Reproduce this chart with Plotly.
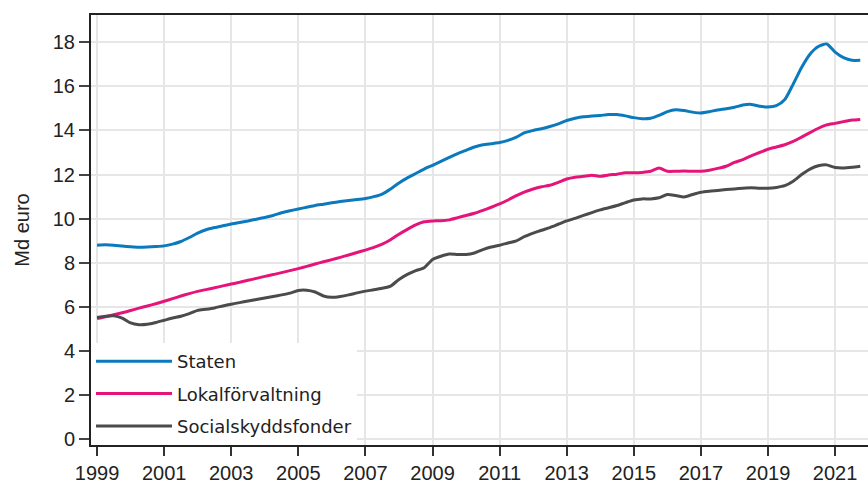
import plotly.graph_objects as go

years = list(range(1999, 2022))
quarters = [y + q / 4 for y in years for q in range(4)]

staten = [
    8.80, 8.82, 8.80, 8.76,
    8.73, 8.71, 8.72, 8.74,
    8.77, 8.85, 8.97, 9.15,
    9.35, 9.50, 9.60, 9.68,
    9.76, 9.83, 9.90, 9.98,
    10.06, 10.15, 10.27, 10.36,
    10.44, 10.52, 10.60, 10.66,
    10.72, 10.78, 10.83, 10.87,
    10.92, 11.00, 11.12, 11.35,
    11.62, 11.85, 12.05, 12.25,
    12.42, 12.60, 12.78, 12.95,
    13.10, 13.25, 13.35, 13.40,
    13.45, 13.55, 13.70, 13.90,
    14.00, 14.08, 14.18, 14.30,
    14.45, 14.55, 14.62, 14.65,
    14.68, 14.72, 14.72, 14.66,
    14.58, 14.53, 14.55, 14.68,
    14.85, 14.94, 14.90, 14.83,
    14.79, 14.85, 14.93, 14.98,
    15.05, 15.15, 15.18, 15.10,
    15.06, 15.12, 15.40, 16.10,
    16.85, 17.45, 17.80, 17.92,
    17.55, 17.30, 17.18, 17.18,
]

lokal = [
    5.48, 5.56, 5.65, 5.74,
    5.84, 5.95, 6.05, 6.15,
    6.26, 6.38, 6.50, 6.61,
    6.71, 6.79, 6.87, 6.96,
    7.04, 7.12, 7.21, 7.30,
    7.39, 7.47, 7.56, 7.65,
    7.74, 7.84, 7.95, 8.05,
    8.15, 8.25, 8.36, 8.47,
    8.58, 8.70, 8.85, 9.05,
    9.30, 9.52, 9.72, 9.86,
    9.90, 9.91, 9.95, 10.05,
    10.15, 10.25, 10.38, 10.52,
    10.67, 10.85, 11.05, 11.22,
    11.35, 11.45, 11.52, 11.65,
    11.80, 11.88, 11.92, 11.97,
    11.92, 11.98, 12.02, 12.08,
    12.08, 12.10, 12.15, 12.30,
    12.15, 12.15, 12.16, 12.15,
    12.15, 12.20, 12.28, 12.38,
    12.55, 12.68, 12.85, 13.00,
    13.15, 13.25, 13.35, 13.50,
    13.70, 13.90, 14.10, 14.25,
    14.32, 14.40, 14.47, 14.50,
]

social = [
    5.53, 5.58, 5.60, 5.50,
    5.28, 5.20, 5.22, 5.30,
    5.40, 5.50, 5.58, 5.70,
    5.85, 5.90, 5.96, 6.05,
    6.13, 6.20, 6.27, 6.34,
    6.41, 6.48, 6.55, 6.63,
    6.75, 6.76, 6.68, 6.50,
    6.44, 6.48, 6.55, 6.64,
    6.72, 6.78, 6.85, 6.95,
    7.25, 7.48, 7.65, 7.78,
    8.15, 8.30, 8.40, 8.38,
    8.38, 8.45, 8.60, 8.72,
    8.80, 8.90, 9.00, 9.20,
    9.35, 9.48, 9.60, 9.75,
    9.90, 10.02, 10.15, 10.28,
    10.40, 10.50, 10.60, 10.73,
    10.85, 10.90, 10.90, 10.95,
    11.10, 11.05, 10.99, 11.10,
    11.20, 11.25, 11.28, 11.32,
    11.35, 11.38, 11.40, 11.38,
    11.38, 11.42, 11.50, 11.70,
    12.00, 12.25, 12.40, 12.44,
    12.32, 12.30, 12.33, 12.38,
]

series_names = ["Staten", "Lokalförvaltning", "Socialskyddsfonder"]
series_values = [staten, lokal, social]
series_colors = ["#0b79bd", "#e5147b", "#4b4b4b"]

x_tick_vals = list(range(1999, 2022, 2))
x_tick_text = [str(v) for v in x_tick_vals]
y_tick_vals = list(range(0, 19, 2))

fig = go.Figure()
for i, (name, vals, col) in enumerate(zip(series_names, series_values, series_colors)):
    fig.add_trace(go.Scatter(
        x=quarters, y=vals, name=name, mode="lines",
        line=dict(color=col, width=3, shape="spline", smoothing=0.6),
        legendgroup=f"g{i}",
    ))

tick_font = dict(family="Liberation Sans, Arial, sans-serif", size=20, color="#222")

fig.update_layout(
    width=868, height=485,
    margin=dict(l=91, r=0, t=15, b=40),
    paper_bgcolor="white", plot_bgcolor="white",
    showlegend=True,
    legend=dict(
        x=0, y=0, xanchor="left", yanchor="bottom",
        bgcolor="white", borderwidth=0,
        font=dict(family="DejaVu Sans, sans-serif", size=18, color="#222"),
        traceorder="grouped", tracegroupgap=6, itemwidth=76,
    ),
    xaxis=dict(
        range=[1998.82, 2021.98],
        tickvals=x_tick_vals, ticktext=x_tick_text,
        showgrid=True, gridcolor="#e6e6e6", gridwidth=2,
        showline=True, linecolor="#222", linewidth=2, mirror=True,
        ticks="outside", ticklen=9, tickwidth=2, tickcolor="#333",
        tickfont=tick_font, zeroline=False,
    ),
    yaxis=dict(
        range=[-0.25, 19.23],
        tickvals=y_tick_vals,
        showgrid=True, gridcolor="#e6e6e6", gridwidth=2,
        showline=True, linecolor="#222", linewidth=2,
        ticks="outside", ticklen=10, tickwidth=2, tickcolor="#444",
        tickfont=tick_font, zeroline=False,
        title=dict(text="Md euro", font=tick_font, standoff=18),
    ),
)

fig.write_html(
    "out.html",
    config={"displayModeBar": False},
    post_script="document.body.style.margin='0';document.body.style.overflow='hidden';",
)
